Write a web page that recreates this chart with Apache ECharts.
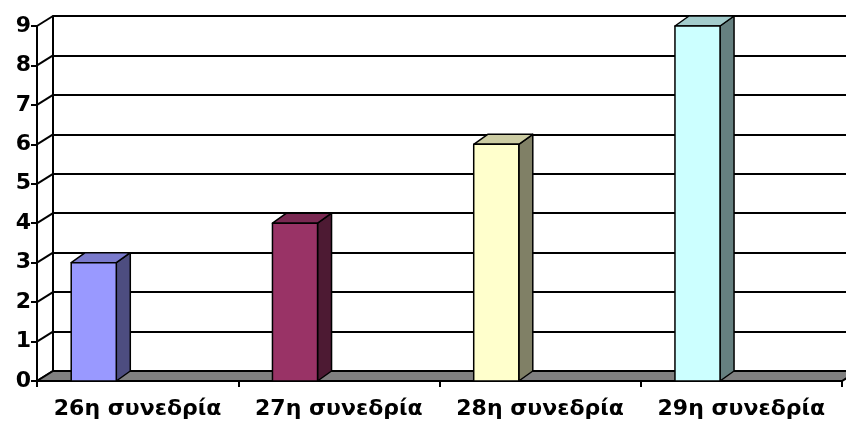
<!DOCTYPE html>
<html>
<head>
<meta charset="utf-8">
<script src="https://cdn.jsdelivr.net/npm/echarts@6/dist/echarts.min.js"></script>
<style>
  html, body { margin: 0; padding: 0; background: #fff; }
  #chart { width: 846px; height: 427px; }
</style>
</head>
<body>
<div id="chart"></div>
<script>
const categories = ['26η συνεδρία', '27η συνεδρία', '28η συνεδρία', '29η συνεδρία'];
const values = [3, 4, 6, 9];
const yTicks = [0, 1, 2, 3, 4, 5, 6, 7, 8, 9];

const frontColors = ['#9999FF', '#993366', '#FFFFCC', '#CCFFFF'];
const topColors = ['#7A7ACC', '#7A2952', '#CCCCA3', '#A3CCCC'];
const sideColors = ['#4D4D80', '#4D1A33', '#808066', '#668080'];

// depth of the wall and of each bar (px)
const wallDx = 16, wallDy = -10;
const barDx = 14, barDy = -10;
const font = '"DejaVu Sans", "Liberation Sans", Arial, sans-serif';

const chart = echarts.init(document.getElementById('chart'), null, { renderer: 'canvas' });

function renderBar(params, api) {
  const i = api.value(0);
  const base = api.coord([i, 0]);
  const top = api.coord([i, api.value(1)]);
  const band = api.size([1, 0])[0];
  const x0 = base[0] - band / 2 + band * 0.17;
  const w = band * 0.224;
  const x1 = x0 + w;
  const yb = base[1];
  const yt = top[1];
  const stroke = { stroke: '#000', lineWidth: 1.5, lineJoin: 'round' };
  return {
    type: 'group',
    children: [
      {
        type: 'polygon',
        shape: { points: [[x1, yb], [x1 + barDx, yb + barDy], [x1 + barDx, yt + barDy], [x1, yt]] },
        style: Object.assign({ fill: sideColors[i] }, stroke),
      },
      {
        type: 'polygon',
        shape: { points: [[x0, yt], [x1, yt], [x1 + barDx, yt + barDy], [x0 + barDx, yt + barDy]] },
        style: Object.assign({ fill: topColors[i] }, stroke),
      },
      {
        type: 'rect',
        shape: { x: x0, y: yt, width: w, height: yb - yt },
        style: Object.assign({ fill: frontColors[i] }, stroke),
      },
    ],
  };
}

function renderFloor(params, api) {
  const cs = params.coordSys;
  const y0 = api.coord([0, 0])[1];
  const xl = cs.x, xr = cs.x + cs.width;
  return {
    type: 'polygon',
    shape: { points: [[xl, y0], [xr, y0], [xr + wallDx, y0 + wallDy], [xl + wallDx, y0 + wallDy]] },
    style: { fill: '#808080', stroke: '#000', lineWidth: 2 },
  };
}

function renderWallLine(params, api) {
  const cs = params.coordSys;
  const y = api.coord([0, api.value(1)])[1];
  return {
    type: 'line',
    shape: { x1: cs.x, y1: y, x2: cs.x + wallDx, y2: y + wallDy },
    style: { stroke: '#000', lineWidth: 2 },
  };
}

const option = {
  backgroundColor: '#fff',
  animation: false,
  grid: [
    { left: 37, top: 26, width: 805, height: 355 },
    { left: 37 + wallDx, top: 26 + wallDy, width: 805, height: 355 },
  ],
  xAxis: [
    {
      type: 'category',
      gridIndex: 0,
      data: categories,
      axisLine: { show: true, lineStyle: { color: '#000', width: 2 } },
      axisTick: { show: true, interval: 0, length: 6, lineStyle: { color: '#000', width: 2 } },
      axisLabel: {
        interval: 0, hideOverlap: false,
        color: '#000', fontFamily: font, fontWeight: 'bold', fontSize: 22, margin: 17,
      },
    },
    {
      type: 'category',
      gridIndex: 1,
      data: categories,
      show: false,
    },
  ],
  yAxis: [
    {
      type: 'value',
      gridIndex: 0,
      min: 0,
      max: 9,
      interval: 1,
      axisLine: { show: true, lineStyle: { color: '#000', width: 2 } },
      axisTick: { show: true, length: 6, lineStyle: { color: '#000', width: 2 } },
      axisLabel: { color: '#000', fontFamily: font, fontWeight: 'bold', fontSize: 22, margin: 6 },
      splitLine: { show: false },
    },
    {
      type: 'value',
      gridIndex: 1,
      min: 0,
      max: 9,
      interval: 1,
      axisLine: { show: true, lineStyle: { color: '#000', width: 2 } },
      axisTick: { show: false },
      axisLabel: { show: false },
      splitLine: { show: true, lineStyle: { color: '#000', width: 2 } },
    },
  ],
  series: [
    {
      type: 'custom',
      xAxisIndex: 0,
      yAxisIndex: 0,
      renderItem: renderWallLine,
      data: yTicks.map(v => [0, v]),
      silent: true,
      z: 1,
    },
    {
      type: 'custom',
      xAxisIndex: 0,
      yAxisIndex: 0,
      renderItem: renderFloor,
      data: [[0, 0]],
      silent: true,
      z: 2,
    },
    {
      type: 'custom',
      xAxisIndex: 0,
      yAxisIndex: 0,
      renderItem: renderBar,
      data: values.map((v, i) => [i, v]),
      z: 3,
    },
  ],
};

chart.setOption(option);
</script>
</body>
</html>
